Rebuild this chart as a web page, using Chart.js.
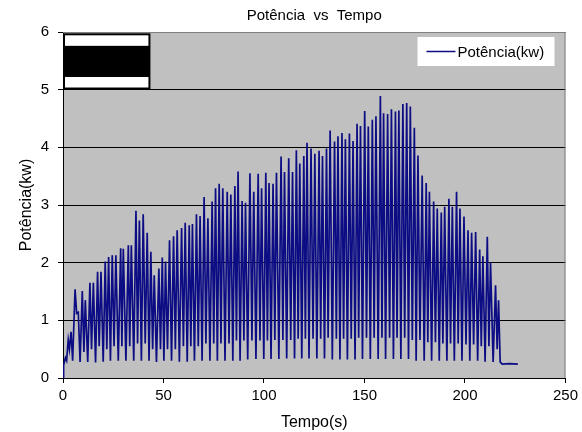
<!DOCTYPE html>
<html>
<head>
<meta charset="utf-8">
<script src="https://cdn.jsdelivr.net/npm/chart.js@4.4.1/dist/chart.umd.min.js"></script>
<style>
  html, body { margin: 0; padding: 0; background: #fff; }
  #wrap { width: 582px; height: 432px; }
</style>
</head>
<body>
<div id="wrap"><canvas id="grafico"></canvas></div>
<script>
const tempo = [
  0, 0.3, 1.2, 1.8, 2.6, 3.2, 4.0, 4.8, 6.0, 6.8,
  7.6, 8.5, 9.6, 10.4, 11.1, 12.3, 13.4, 14.2, 15.1, 16.2,
  17.2, 18.0, 18.9, 20.0, 21.0, 21.8, 22.7, 23.6, 24.5, 25.4,
  26.3, 27.5, 28.7, 29.3, 30.0, 31.3, 32.5, 33.2, 34.0, 35.2,
  36.3, 37.1, 38.0, 39.0, 39.9, 40.9, 41.9, 42.8, 43.7, 44.6,
  45.4, 46.5, 47.7, 48.5, 49.4, 50.2, 51.0, 52.0, 53.0, 54.0,
  55.0, 55.9, 56.8, 57.9, 59.0, 59.9, 60.8, 61.8, 62.8, 63.6,
  64.4, 65.4, 66.4, 67.3, 68.2, 69.2, 70.2, 71.1, 72.1, 73.1,
  74.2, 75.0, 75.9, 76.8, 77.7, 78.6, 79.5, 80.6, 81.7, 82.6,
  83.5, 84.5, 85.5, 86.3, 87.1, 88.1, 89.1, 90.0, 90.8, 91.9,
  93.0, 94.0, 94.9, 96.0, 97.1, 98.0, 98.8, 99.9, 100.9, 101.7,
  102.5, 103.5, 104.5, 105.4, 106.2, 107.4, 108.5, 109.4, 110.2, 111.3,
  112.3, 113.3, 114.2, 115.2, 116.1, 117.0, 117.8, 118.8, 119.8, 120.6,
  121.4, 122.4, 123.4, 124.4, 125.3, 126.3, 127.4, 128.2, 129.1, 130.1,
  131.1, 131.9, 132.9, 134.0, 135.1, 136.0, 136.8, 137.8, 138.8, 139.6,
  140.5, 141.5, 142.5, 143.4, 144.3, 145.3, 146.3, 147.1, 148.0, 149.0,
  150.1, 151.0, 151.9, 152.9, 153.9, 154.8, 155.7, 156.8, 157.9, 158.7,
  159.5, 160.5, 161.5, 162.5, 163.4, 164.4, 165.4, 166.2, 167.1, 168.1,
  169.1, 170.0, 171.0, 171.9, 172.8, 173.8, 174.8, 175.7, 176.6, 177.6,
  178.7, 179.7, 180.7, 181.5, 182.3, 183.4, 184.4, 185.3, 186.2, 187.2,
  188.2, 189.0, 189.9, 191.0, 192.0, 192.8, 193.7, 194.7, 195.8, 196.6,
  197.5, 198.5, 199.5, 200.5, 201.5, 202.4, 203.3, 204.3, 205.3, 206.3,
  207.3, 208.1, 208.9, 210.0, 211.1, 211.9, 212.7, 214.0, 215.2, 216.0,
  216.7, 217.5, 218.5, 222.0, 226.3
];
const potencia = [
  0, 0.22, 0.35, 0.3, 0.66, 0.5, 0.8, 0.3, 1.54, 1.12,
  1.14, 0.28, 1.51, 0.45, 1.35, 0.28, 1.65, 0.5, 1.65, 0.27,
  1.84, 0.55, 1.84, 0.28, 2.02, 0.5, 2.1, 0.3, 2.13, 0.55,
  2.13, 0.3, 2.25, 0.55, 2.24, 0.3, 2.3, 0.55, 2.3, 0.3,
  2.9, 0.6, 2.73, 0.3, 2.84, 0.6, 2.52, 0.3, 2.19, 0.5,
  1.78, 0.28, 1.9, 0.5, 2.09, 0.3, 2.02, 0.5, 2.39, 0.3,
  2.46, 0.5, 2.56, 0.28, 2.6, 0.55, 2.69, 0.28, 2.65, 0.55,
  2.67, 0.3, 2.84, 0.55, 2.81, 0.3, 3.14, 0.6, 2.77, 0.3,
  3.06, 0.6, 3.29, 0.3, 3.37, 0.6, 3.29, 0.3, 3.23, 0.6,
  3.18, 0.3, 3.33, 0.65, 3.58, 0.3, 3.07, 0.65, 3.04, 0.32,
  3.55, 0.65, 3.23, 0.33, 3.54, 0.65, 3.29, 0.33, 3.56, 0.65,
  3.38, 0.33, 3.37, 0.66, 3.56, 0.33, 3.84, 0.66, 3.57, 0.34,
  3.81, 0.66, 3.57, 0.34, 3.95, 0.68, 3.72, 0.34, 3.85, 0.68,
  4.08, 0.34, 3.98, 0.68, 3.89, 0.34, 3.94, 0.68, 3.85, 0.34,
  3.98, 0.7, 4.29, 0.32, 4.1, 0.68, 4.19, 0.32, 4.25, 0.68,
  4.14, 0.32, 4.24, 0.68, 4.11, 0.32, 4.41, 0.7, 4.37, 0.33,
  4.63, 0.7, 4.36, 0.33, 4.48, 0.7, 4.54, 0.33, 4.89, 0.7,
  4.59, 0.33, 4.58, 0.7, 4.66, 0.33, 4.62, 0.7, 4.64, 0.33,
  4.75, 0.7, 4.77, 0.33, 4.71, 0.66, 4.34, 0.3, 3.86, 0.66,
  3.51, 0.3, 3.38, 0.62, 3.23, 0.3, 3.06, 0.62, 2.94, 0.3,
  2.87, 0.6, 2.97, 0.3, 3.11, 0.6, 2.97, 0.3, 3.23, 0.6,
  2.94, 0.3, 2.8, 0.58, 2.56, 0.3, 2.52, 0.58, 2.53, 0.3,
  2.23, 0.55, 2.11, 0.28, 2.45, 0.55, 2.0, 0.28, 1.61, 0.5,
  1.35, 0.28, 0.24, 0.25, 0.24
];
const ticksTempo = [0, 50, 100, 150, 200, 250];
const ticksPotencia = [0, 1, 2, 3, 4, 5, 6];

const FONTE = "'Liberation Sans', Arial, sans-serif";
const AZUL = '#0c0c84';

// fundo cinza da área de plotagem, caixa preta no canto e legenda
const plotExcel = {
  id: 'plotExcel',
  beforeDraw(chart) {
    const { ctx, chartArea: a } = chart;
    ctx.save();
    ctx.fillStyle = '#c0c0c0';
    ctx.fillRect(a.left, a.top, a.width, a.height);
    ctx.restore();
  },
  afterDraw(chart) {
    const { ctx, chartArea: a, scales } = chart;
    const x = scales.x, y = scales.y;
    ctx.save();
    // bordas superior e direita
    ctx.strokeStyle = '#808080';
    ctx.lineWidth = 1;
    ctx.beginPath();
    ctx.moveTo(a.left, a.top + 0.5);
    ctx.lineTo(a.right - 0.5, a.top + 0.5);
    ctx.lineTo(a.right - 0.5, a.bottom);
    ctx.stroke();

    // caixa preta
    const bx0 = x.getPixelForValue(0), bx1 = x.getPixelForValue(43);
    const by0 = y.getPixelForValue(5.96), by1 = y.getPixelForValue(5.02);
    ctx.fillStyle = '#fff';
    ctx.fillRect(bx0, by0, bx1 - bx0, by1 - by0);
    ctx.fillStyle = '#000';
    const fy0 = y.getPixelForValue(5.76), fy1 = y.getPixelForValue(5.22);
    ctx.fillRect(bx0, fy0, bx1 - bx0, fy1 - fy0);
    ctx.lineWidth = 2;
    ctx.strokeStyle = '#000';
    ctx.strokeRect(bx0 + 1, by0, bx1 - bx0 - 1, by1 - by0);

    // legenda
    const ds = chart.data.datasets[0];
    const lx = a.right - 148, ly = a.top + 5, lw = 137, lh = 29;
    ctx.fillStyle = '#fff';
    ctx.fillRect(lx, ly, lw, lh);
    ctx.strokeStyle = ds.borderColor;
    ctx.lineWidth = 1.5;
    ctx.beginPath();
    ctx.moveTo(lx + 9, ly + lh / 2);
    ctx.lineTo(lx + 38, ly + lh / 2);
    ctx.stroke();
    ctx.fillStyle = '#000';
    ctx.font = '15px ' + FONTE;
    ctx.textBaseline = 'middle';
    ctx.fillText(ds.label, lx + 40, ly + lh / 2 + 1);
    ctx.restore();
  }
};

new Chart(document.getElementById('grafico'), {
  type: 'line',
  data: {
    datasets: [{
      label: 'Potência(kw)',
      data: tempo.map((t, i) => ({ x: t, y: potencia[i] })),
      borderColor: AZUL,
      borderWidth: 1.7,
      pointRadius: 0,
      tension: 0,
      fill: false
    }]
  },
  options: {
    responsive: true,
    maintainAspectRatio: false,
    animation: false,
    events: [],
    layout: { padding: { right: 16 } },
    plugins: {
      legend: { display: false },
      tooltip: { enabled: false },
      title: {
        display: true,
        text: 'Potência  vs  Tempo',
        fullSize: false,
        color: '#000',
        font: { family: FONTE, size: 15, weight: 'normal' },
        padding: { top: 7, bottom: 7 }
      }
    },
    scales: {
      x: {
        type: 'linear',
        min: 0,
        max: 250,
        afterBuildTicks: s => { s.ticks = ticksTempo.map(v => ({ value: v })); },
        afterFit: s => { s.height = 54; },
        ticks: { color: '#000', font: { family: FONTE, size: 15 }, padding: 4, maxRotation: 0 },
        grid: { drawOnChartArea: false, drawTicks: true, tickLength: 5, color: '#000' },
        border: { color: '#000', width: 1 },
        title: {
          display: true, text: 'Tempo(s)', color: '#000',
          font: { family: FONTE, size: 16 }, padding: { top: 0, bottom: 0 }
        }
      },
      y: {
        min: 0,
        max: 6,
        afterBuildTicks: s => { s.ticks = ticksPotencia.map(v => ({ value: v })); },
        afterFit: s => { s.width = 63; },
        ticks: { color: '#000', font: { family: FONTE, size: 15 }, padding: 9 },
        grid: { color: '#000', lineWidth: 1, tickLength: 5 },
        border: { color: '#000', width: 1 },
        title: {
          display: true, text: 'Potência(kw)', color: '#000',
          font: { family: FONTE, size: 16 }, padding: { top: 17, bottom: 0 }
        }
      }
    }
  },
  plugins: [plotExcel]
});
</script>
</body>
</html>
